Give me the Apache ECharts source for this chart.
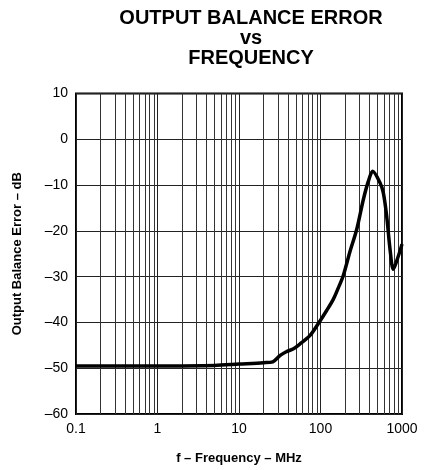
<!DOCTYPE html>
<html>
<head>
<meta charset="utf-8">
<script src="https://cdn.jsdelivr.net/npm/echarts@6/dist/echarts.min.js"></script>
<style>html,body{margin:0;padding:0;background:#fff}#c{width:435px;height:470px}</style>
</head>
<body>
<div id="c"></div>
<script>
var titleLines = ['OUTPUT BALANCE ERROR', 'vs', 'FREQUENCY'];
var xAxisName = 'f \u2013 Frequency \u2013 MHz';
var yAxisName = 'Output Balance Error \u2013 dB';
var xTickLabels = ['0.1', '1', '10', '100', '1000'];
var freqMHz = [0.1, 1, 5, 10, 20, 26, 32, 38, 46, 56, 74, 96, 119, 144, 165, 190, 230, 278, 335, 386, 437, 537, 590, 649, 713, 782, 902, 1000];
var errorDb = [-49.5, -49.5, -49.4, -49.1, -48.8, -48.6, -47.2, -46.4, -45.8, -44.7, -42.9, -40, -37.4, -34.9, -32.5, -29.8, -24.5, -19.7, -13.2, -9.2, -7, -9.5, -11.7, -16.8, -24, -28.4, -25.5, -22.9];
var minorFreqs = [0.2,0.3,0.4,0.5,0.6,0.7,0.8,0.9,2,3,4,5,6,7,8,9,20,30,40,50,60,70,80,90,200,300,400,500,600,700,800,900];

var chart = echarts.init(document.getElementById('c'), null, {renderer: 'canvas'});
var FONT = 'Liberation Sans, Arial, Helvetica, sans-serif';
chart.setOption({
  animation: false,
  title: titleLines.map(function (t, i) {
    return {
      text: t, left: 251, textAlign: 'center', top: [8, 28, 48][i], padding: 0,
      textStyle: {fontFamily: FONT, fontWeight: 'bold', fontSize: 20, color: '#000'}
    };
  }),
  grid: {left: 76, top: 93.5, right: 33, bottom: 53.5, show: true, borderColor: '#000', borderWidth: 2, backgroundColor: 'transparent'},
  xAxis: {
    type: 'log', logBase: 10, min: 0.1, max: 1000,
    name: xAxisName, nameLocation: 'middle', nameGap: 38,
    nameTextStyle: {fontFamily: FONT, fontWeight: 'bold', fontSize: 13, color: '#000'},
    axisLine: {show: false}, axisTick: {show: false},
    axisLabel: {fontFamily: FONT, fontSize: 14, color: '#000', margin: 8,
      formatter: function (v) {
        var e = Math.round(Math.log10(v)) + 1;
        return xTickLabels[e] !== undefined ? xTickLabels[e] : '';
      }},
    splitLine: {show: true, lineStyle: {color: '#222', width: 1}}
  },
  yAxis: {
    type: 'value', min: -60, max: 10, interval: 10,
    name: yAxisName, nameLocation: 'middle', nameGap: 52, nameRotate: 90,
    nameTextStyle: {fontFamily: FONT, fontWeight: 'bold', fontSize: 13, color: '#000'},
    axisLine: {show: false}, axisTick: {show: false},
    axisLabel: {fontFamily: FONT, fontSize: 14, color: '#000', margin: 8,
      formatter: function (v) { return String(v).replace('-', '\u2013'); }},
    splitLine: {show: true, lineStyle: {color: '#222', width: 1}}
  },
  series: [{
    type: 'line',
    data: freqMHz.map(function (f, i) { return [f, errorDb[i]]; }),
    showSymbol: false, smooth: 0.3,
    lineStyle: {color: '#000', width: 3.5},
    z: 5,
    markLine: {
      silent: true, symbol: 'none', label: {show: false},
      lineStyle: {color: '#333', width: 1, type: 'solid'},
      data: minorFreqs.map(function (f) { return {xAxis: f}; }),
      z: 1
    }
  }]
});
</script>
</body>
</html>
